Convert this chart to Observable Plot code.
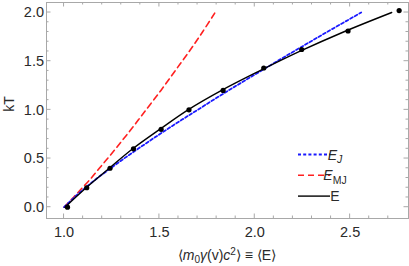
<!DOCTYPE html>
<html>
<head>
<meta charset="utf-8">
<script src="https://cdn.jsdelivr.net/npm/d3@7"></script>
<script src="https://cdn.jsdelivr.net/npm/@observablehq/plot@0.6"></script>
<style>
html,body{margin:0;padding:0;background:#fff;}
</style>
</head>
<body>
<div id="chart"></div>
<script>
// ---- data ----
const thetaJ   = [0,0.1,0.2,0.3,0.4,0.5,0.6,0.7,0.8,0.9,1.0,1.2,1.4,1.6,1.8,2.0];
const energyJ  = [1.000,1.053,1.112,1.175,1.244,1.314,1.388,1.463,1.540,1.619,1.700,1.863,2.032,2.204,2.379,2.558];
const thetaMJ  = [0,0.1,0.2,0.3,0.4,0.5,0.6,0.7,0.8,0.9,1.0,1.2,1.4,1.6,1.8,2.0];
const energyMJ = [1.000,1.049,1.096,1.143,1.185,1.228,1.270,1.311,1.352,1.391,1.430,1.508,1.582,1.656,1.726,1.792];
const thetaE   = [0,0.2,0.4,0.6,0.8,1.0,1.2,1.4,1.6,1.8,2.0];
const energyE  = [1.005,1.116,1.237,1.360,1.502,1.650,1.826,2.025,2.235,2.465,2.718];
const pointE   = [1.018,1.119,1.241,1.364,1.509,1.655,1.834,2.047,2.246,2.489,2.757];
const pointT   = [0,0.2,0.4,0.6,0.8,1.0,1.2,1.43,1.62,1.81,2.02];

const xMajor = [1.0,1.5,2.0,2.5];
const xMinor = [1.1,1.2,1.3,1.4,1.6,1.7,1.8,1.9,2.1,2.2,2.3,2.4,2.6,2.7];
const yMajor = [0.0,0.5,1.0,1.5,2.0];
const yMinor = [0.1,0.2,0.3,0.4,0.6,0.7,0.8,0.9,1.1,1.2,1.3,1.4,1.6,1.7,1.8,1.9];

const legendItems = [
  {key:"EJ",  label:"E", sub:"J",  italic:true, subItalic:true, color:"#1a1aff", dash:"3,2.2", width:1.8},
  {key:"EMJ", label:"E", sub:"MJ", italic:true, subItalic:false, color:"#ff2020", dash:"6,4", width:1.6},
  {key:"E",   label:"E", sub:"",   italic:false, subItalic:false, color:"#000", dash:null, width:1.4}
];

const lineJ  = thetaJ.map((t,i)=>({E:energyJ[i], T:t}));
const lineMJ = thetaMJ.map((t,i)=>({E:energyMJ[i], T:t}));
const lineE  = thetaE.map((t,i)=>({E:energyE[i], T:t}));
const points = pointT.map((t,i)=>({E:pointE[i], T:t}));

const frameColor = "#a8a8a8";
const textColor = "#2a2a2a";
const FONT = "'Liberation Sans', Arial, sans-serif";

function frameTicks(index, scales, values, dims) {
  const {x, y} = scales;
  const L = dims.marginLeft, R = dims.width - dims.marginRight;
  const T = dims.marginTop, B = dims.height - dims.marginBottom;
  const g = d3.create("svg:g").attr("stroke", frameColor).attr("stroke-width", 1).attr("fill", "none");
  const seg = (x1,y1,x2,y2) => g.append("line").attr("x1",x1).attr("y1",y1).attr("x2",x2).attr("y2",y2);
  for (const [vals, len] of [[xMajor, 4.5],[xMinor, 2.5]]) for (const v of vals) {
    const p = x(v); seg(p,B,p,B-len); seg(p,T,p,T+len);
  }
  for (const [vals, len] of [[yMajor, 4.5],[yMinor, 2.5]]) for (const v of vals) {
    const p = y(v); seg(L,p,L+len,p); seg(R,p,R-len,p);
  }
  return g.node();
}

function labels(index, scales, values, dims) {
  const L = dims.marginLeft, R = dims.width - dims.marginRight;
  const T = dims.marginTop, B = dims.height - dims.marginBottom;
  const g = d3.create("svg:g").attr("fill", textColor).attr("font-family", FONT);
  // x label
  const xt = g.append("text").attr("x", (L+R)/2).attr("y", B + 42).attr("text-anchor","middle").attr("font-size", 14);
  xt.append("tspan").text("\u27E8");
  xt.append("tspan").attr("font-style","italic").text("m");
  xt.append("tspan").attr("font-size",10).attr("dy",3).text("0");
  xt.append("tspan").attr("dy",-3).attr("font-style","italic").text("\u03B3");
  xt.append("tspan").text("(v)");
  xt.append("tspan").attr("font-style","italic").text("c");
  xt.append("tspan").attr("font-size",10).attr("dy",-5).text("2");
  xt.append("tspan").attr("dy",5).text("\u27E9 \u2261 \u27E8E\u27E9");
  // y label
  g.append("text").attr("transform", `translate(${L-37},${(T+B)/2 - 6}) rotate(-90)`)
    .attr("text-anchor","middle").attr("dominant-baseline","central").attr("font-size", 14).text("kT");
  // legend
  const lg = g.append("g");
  legendItems.forEach((d, i) => {
    const cy = B - 63.5 + i * 20.8;
    const ln = lg.append("line").attr("x1", R - 110).attr("x2", R - 78).attr("y1", cy).attr("y2", cy)
      .attr("stroke", d.color).attr("stroke-width", d.width);
    if (d.dash) ln.attr("stroke-dasharray", d.dash);
    const t = lg.append("text").attr("x", R - 73).attr("y", cy + 5).attr("font-size", 14);
    t.append("tspan").attr("font-style", d.italic ? "italic" : "normal").text(d.label);
    if (d.sub) t.append("tspan").attr("font-size", 10.5).attr("dy", 3.5).attr("font-style", d.subItalic ? "italic" : "normal").text(d.sub);
  });
  return g.node();
}

const chart = Plot.plot({
  width: 409,
  height: 266,
  marginLeft: 46,
  marginRight: 1,
  marginTop: 2,
  marginBottom: 48,
  style: {fontFamily: FONT, background: "#fff", color: textColor, overflow: "visible"},
  x: {domain: [0.908, 2.806]},
  y: {domain: [-0.116, 2.103]},
  marks: [
    Plot.frame({stroke: frameColor}),
    frameTicks,
    Plot.axisX(xMajor, {anchor: "bottom", tickSize: 0, tickPadding: 8, tickFormat: d3.format(".1f"), fontSize: 14.5, label: null, fill: textColor}),
    Plot.axisY(yMajor, {anchor: "left", tickSize: 0, tickPadding: 2.5, tickFormat: d3.format(".1f"), fontSize: 14.5, label: null, fill: textColor}),
    Plot.line(lineMJ, {x: "E", y: "T", stroke: "#ff2020", strokeWidth: 1.6, strokeDasharray: "6,4", curve: "catmull-rom"}),
    Plot.line(lineJ, {x: "E", y: "T", stroke: "#1a1aff", strokeWidth: 1.8, strokeDasharray: "3,2.2", curve: "catmull-rom"}),
    Plot.line(lineE, {x: "E", y: "T", stroke: "#000", strokeWidth: 1.4, curve: "catmull-rom"}),
    Plot.dot(points, {x: "E", y: "T", r: 2.6, fill: "#000", stroke: "none"}),
    labels
  ]
});
document.getElementById("chart").appendChild(chart);
</script>
</body>
</html>
